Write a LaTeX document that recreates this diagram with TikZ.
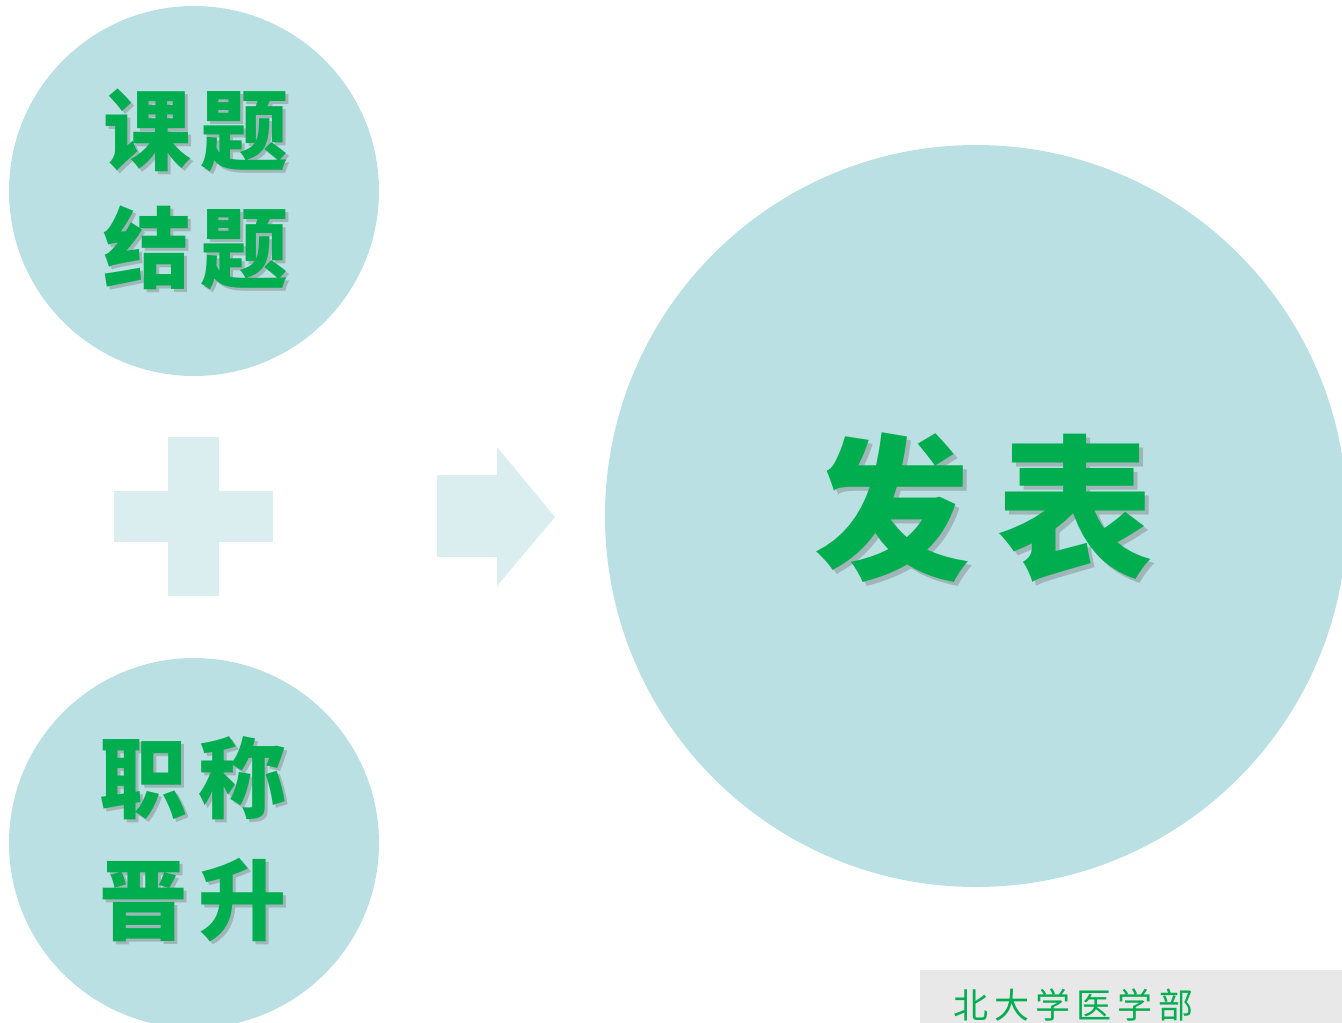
\documentclass[tikz,border=0pt]{standalone}
\usepackage{fontspec}
\newfontfamily\cjk{Noto Sans CJK SC}
\definecolor{circ}{HTML}{BAE0E3}
\definecolor{pale}{HTML}{DAEEF0}
\definecolor{grn}{HTML}{00AE50}
\definecolor{boxg}{HTML}{E8E8E8}
\definecolor{shd}{HTML}{9FB5B8}
\tikzset{
  bubble/.style={circle, fill=circ, draw=none, inner sep=0pt},
  shp/.style={fill=pale, draw=none},
  word/.style={text=grn, font=\cjk\bfseries\fontsize{88}{94}\selectfont, inner sep=0pt},
  big/.style={text=grn, font=\cjk\bfseries\fontsize{156}{166}\selectfont, inner sep=0pt},
  shadow/.style={text=shd},
}
\begin{document}
\begin{tikzpicture}[x=1pt,y=-1pt]
\useasboundingbox (0,0) rectangle (1342,1023);
% circles
\node[bubble, minimum size=370pt] (c1) at (194,191) {};
\node[bubble, minimum size=370pt] (c2) at (194,843) {};
\node[bubble, minimum size=742pt] (c3) at (976,516) {};
% plus
\fill[shp] (168,437) rectangle (219,596);
\fill[shp] (114,491) rectangle (273,542);
% arrow
\fill[shp] (437,475) -- (497,475) -- (497,447) -- (555,517) -- (497,586) -- (497,557) -- (437,557) -- cycle;
% texts with soft shadows
\foreach \t/\x/\y/\n in {课\hspace{10pt}题/196/130/a, 结\hspace{10pt}题/196/248/b, 职\hspace{12pt}称/193/778/c, 晋\hspace{12pt}升/193/900/d}{
  \node[word, shadow] (s\n) at (\x+3,\y+3) {\t};
  \node[word] (t\n) at (\x,\y) {\t};
}
\node[big, shadow] (sf) at (988,512) {发\hspace{28pt}表};
\node[big] (tf) at (984,508) {发\hspace{28pt}表};
% bottom box
\fill[boxg] (920,970) rectangle (1342,1023);
\node[text=grn, font=\cjk\fontsize{35}{37}\selectfont, inner sep=0pt, anchor=west] (org) at (953,1005) {北\hspace{6pt}大\hspace{6pt}学\hspace{6pt}医\hspace{6pt}学\hspace{6pt}部};
\end{tikzpicture}
\end{document}
